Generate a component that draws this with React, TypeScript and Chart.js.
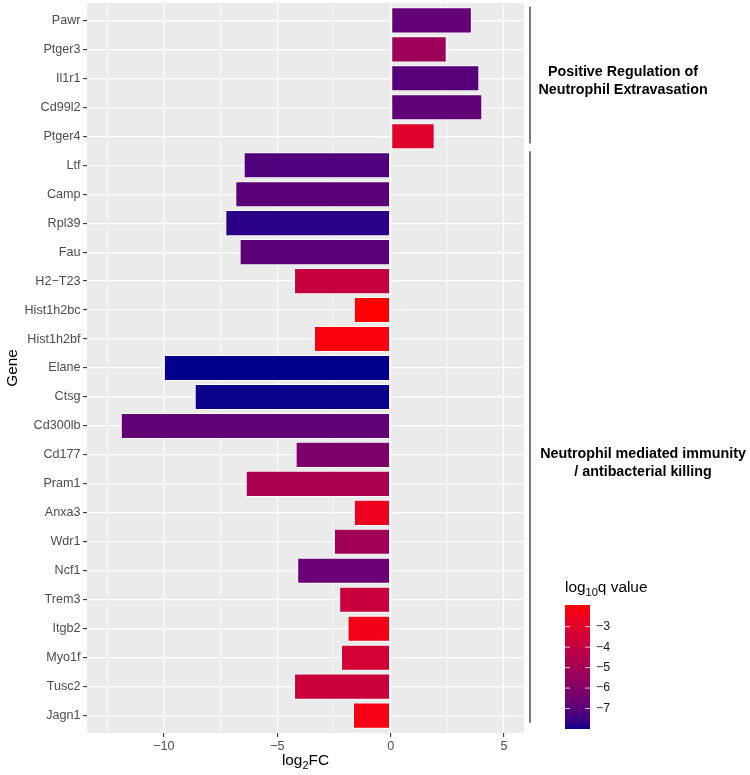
import React, { useEffect, useRef } from 'react';
import { Chart, registerables } from 'chart.js';

Chart.register(...registerables);

// ---------- data ----------
const genes = [
  'Pawr', 'Ptger3', 'Il1r1', 'Cd99l2', 'Ptger4', 'Ltf', 'Camp', 'Rpl39', 'Fau',
  'H2\u2212T23', 'Hist1h2bc', 'Hist1h2bf', 'Elane', 'Ctsg', 'Cd300lb', 'Cd177',
  'Pram1', 'Anxa3', 'Wdr1', 'Ncf1', 'Trem3', 'Itgb2', 'Myo1f', 'Tusc2', 'Jagn1',
];
const log2FC = [
  3.58, 2.47, 3.91, 4.04, 1.94, -6.48, -6.85, -7.29, -6.66,
  -4.26, -1.62, -3.38, -10.0, -8.64, -11.9, -4.19,
  -6.39, -1.62, -2.5, -4.12, -2.27, -1.9, -2.19, -4.26, -1.66,
];
const log10q = [
  -6.79, -5.27, -7.09, -6.85, -3.03, -7.21, -7.03, -7.76, -6.97,
  -3.88, -1.94, -2.12, -8.0, -7.97, -6.85, -6.18,
  -4.85, -2.55, -5.09, -6.67, -3.82, -2.36, -3.46, -3.76, -2.3,
];
const xTicks = [-12.5, -10, -7.5, -5, -2.5, 0, 2.5, 5];
const legendTicks = [-3, -4, -5, -6, -7];
const groupLabels = [
  ['Positive Regulation of', 'Neutrophil Extravasation'],
  ['Neutrophil mediated immunity', '/ antibacterial killing'],
];
const groupFirst = [0, 5];
const groupLast = [4, 24];

// ---------- colour scale (Lab interpolation, like ggplot) ----------
const LOW = [0, 0, 139];
const HIGH = [255, 0, 0];
function srgbToLin(c: number) { c /= 255; return c <= 0.04045 ? c / 12.92 : Math.pow((c + 0.055) / 1.055, 2.4); }
function linToSrgb(c: number) {
  const v = c <= 0.0031308 ? 12.92 * c : 1.055 * Math.pow(Math.max(c, 0), 1 / 2.4) - 0.055;
  return Math.round(Math.max(0, Math.min(1, v)) * 255);
}
function rgbToLab(rgb: number[]) {
  const R = srgbToLin(rgb[0]), G = srgbToLin(rgb[1]), B = srgbToLin(rgb[2]);
  const X = (0.4124 * R + 0.3576 * G + 0.1805 * B) / 0.95047;
  const Y = 0.2126 * R + 0.7152 * G + 0.0722 * B;
  const Z = (0.0193 * R + 0.1192 * G + 0.9505 * B) / 1.08883;
  const f = (t: number) => (t > 0.008856 ? Math.cbrt(t) : 7.787 * t + 16 / 116);
  return [116 * f(Y) - 16, 500 * (f(X) - f(Y)), 200 * (f(Y) - f(Z))];
}
function labToRgb(lab: number[]) {
  const fy = (lab[0] + 16) / 116, fx = fy + lab[1] / 500, fz = fy - lab[2] / 200;
  const inv = (t: number) => (t * t * t > 0.008856 ? t * t * t : (t - 16 / 116) / 7.787);
  const X = inv(fx) * 0.95047, Y = inv(fy), Z = inv(fz) * 1.08883;
  const R = 3.2406 * X - 1.5372 * Y - 0.4986 * Z;
  const G = -0.9689 * X + 1.8758 * Y + 0.0415 * Z;
  const B = 0.0557 * X - 0.204 * Y + 1.057 * Z;
  return [linToSrgb(R), linToSrgb(G), linToSrgb(B)];
}
const LOW_LAB = rgbToLab(LOW);
const HIGH_LAB = rgbToLab(HIGH);
const qMin = Math.min(...log10q);
const qMax = Math.max(...log10q);
function colorFor(v: number) {
  const t = Math.max(0, Math.min(1, (v - qMin) / (qMax - qMin)));
  const lab = LOW_LAB.map((l, i) => l + (HIGH_LAB[i] - l) * t);
  const c = labToRgb(lab);
  return `rgb(${c[0]},${c[1]},${c[2]})`;
}

// ---------- helpers ----------
const FAMILY = '"Liberation Sans", Arial, Helvetica, sans-serif';
const fmt = (v: number) => (v < 0 ? '\u2212' + Math.abs(v) : String(v));

function drawWithSub(
  ctx: CanvasRenderingContext2D, parts: [string, boolean][], x: number, y: number,
  size: number, align: 'left' | 'center', color: string,
) {
  const subSize = size * 0.72;
  let total = 0;
  const widths = parts.map(([s, sub]) => {
    ctx.font = `${sub ? subSize : size}px ${FAMILY}`;
    const w = ctx.measureText(s).width;
    total += w;
    return w;
  });
  let cx = align === 'center' ? x - total / 2 : x;
  ctx.fillStyle = color;
  ctx.textAlign = 'left';
  ctx.textBaseline = 'alphabetic';
  parts.forEach(([s, sub], i) => {
    ctx.font = `${sub ? subSize : size}px ${FAMILY}`;
    ctx.fillText(s, cx, sub ? y + size * 0.25 : y);
    cx += widths[i];
  });
}

const decor = {
  id: 'decor',
  beforeDraw(chart: any) {
    const { ctx, chartArea: a } = chart;
    ctx.save();
    ctx.fillStyle = '#EBEBEB';
    ctx.fillRect(a.left, a.top, a.right - a.left, a.bottom - a.top);
    ctx.restore();
  },
  afterDraw(chart: any) {
    const { ctx, chartArea: a } = chart;
    const yS = chart.scales.y;
    ctx.save();

    // y axis title
    ctx.save();
    ctx.translate(13, (a.top + a.bottom) / 2);
    ctx.rotate(-Math.PI / 2);
    ctx.fillStyle = '#000';
    ctx.font = `15.4px ${FAMILY}`;
    ctx.textAlign = 'center';
    ctx.textBaseline = 'middle';
    ctx.fillText('Gene', 0, 0);
    ctx.restore();

    // x axis title
    drawWithSub(ctx, [['log', false], ['2', true], ['FC', false]], (a.left + a.right) / 2, 765, 15.4, 'center', '#000');

    // group brackets and labels
    const lineX = 530;
    const textRows = [2.09, 15.27];
    const textXs = [623, 643];
    ctx.strokeStyle = '#333333';
    ctx.lineWidth = 1.3;
    groupLabels.forEach((lines, g) => {
      const y0 = yS.getPixelForValue(groupFirst[g] - 0.48);
      const y1 = yS.getPixelForValue(groupLast[g] + 0.25);
      ctx.beginPath();
      ctx.moveTo(lineX, y0);
      ctx.lineTo(lineX, y1);
      ctx.stroke();
      const cy = yS.getPixelForValue(textRows[g]);
      ctx.fillStyle = '#000';
      ctx.font = `bold 14.3px ${FAMILY}`;
      ctx.textAlign = 'center';
      ctx.textBaseline = 'middle';
      const lh = 17.7;
      lines.forEach((ln, i) => {
        ctx.fillText(ln, textXs[g], cy + (i - (lines.length - 1) / 2) * lh);
      });
    });

    // colour bar legend
    drawWithSub(ctx, [['log', false], ['10', true], ['q value', false]], 565, 592, 15.4, 'left', '#000');
    const barX = 565, barY = 605, barW = 25, barH = 124;
    for (let i = 0; i < barH; i++) {
      const v = qMax - ((i + 0.5) / barH) * (qMax - qMin);
      ctx.fillStyle = colorFor(v);
      ctx.fillRect(barX, barY + i, barW, 1);
    }
    ctx.strokeStyle = 'rgba(255,255,255,0.75)';
    ctx.lineWidth = 1;
    ctx.font = `12.3px ${FAMILY}`;
    ctx.textAlign = 'left';
    ctx.textBaseline = 'middle';
    legendTicks.forEach((t) => {
      const y = barY + ((qMax - t) / (qMax - qMin)) * barH;
      ctx.beginPath();
      ctx.moveTo(barX, y); ctx.lineTo(barX + 5, y);
      ctx.moveTo(barX + barW - 5, y); ctx.lineTo(barX + barW, y);
      ctx.stroke();
      ctx.fillStyle = '#1a1a1a';
      ctx.fillText(fmt(t), barX + 31, y);
    });

    ctx.restore();
  },
};

const zeroPad = (s: any) => {
  s.paddingTop = 0; s.paddingBottom = 0; s.paddingLeft = 0; s.paddingRight = 0;
};

export default function App() {
  const ref = useRef<HTMLCanvasElement | null>(null);
  useEffect(() => {
    if (!ref.current) return;
    const chart = new Chart(ref.current, {
      type: 'bar',
      data: {
        datasets: [{
          data: log2FC.map((v, i) => ({ x: v, y: i })) as any,
          backgroundColor: log10q.map(colorFor),
          borderColor: 'rgba(255,255,255,0.85)',
          borderWidth: 1,
          borderSkipped: false,
          barPercentage: 0.9,
          categoryPercentage: 1,
        }],
      },
      options: {
        indexAxis: 'y',
        animation: false,
        responsive: false,
        layout: { padding: { left: 0, top: 3, right: 226, bottom: 0 } },
        plugins: { legend: { display: false }, tooltip: { enabled: false } },
        scales: {
          x: {
            type: 'linear',
            min: -13.39,
            max: 5.88,
            offset: false,
            afterBuildTicks: (s: any) => { s.ticks = xTicks.map((v) => ({ value: v })); },
            afterFit: (s: any) => { s.height = 42; zeroPad(s); },
            ticks: {
              autoSkip: false, maxRotation: 0, minRotation: 0, padding: 2,
              color: '#4D4D4D', font: { family: FAMILY, size: 12.6 },
              callback: (v: any) => (Number(v) % 5 === 0 ? fmt(Number(v)) : ''),
            },
            grid: {
              offset: false,
              color: '#FFFFFF',
              lineWidth: (c: any) => (c.tick && c.tick.value % 5 === 0 ? 1.2 : 0.6),
              tickColor: (c: any) => (c.tick && c.tick.value % 5 === 0 ? '#333333' : 'rgba(0,0,0,0)'),
              tickLength: 4, tickWidth: 1.1,
            },
            border: { display: false },
          },
          y: {
            type: 'linear',
            reverse: true,
            offset: false,
            min: -0.6,
            max: genes.length - 1 + 0.6,
            afterBuildTicks: (s: any) => { s.ticks = genes.map((_, i) => ({ value: i })); },
            afterFit: (s: any) => { s.width = 87; zeroPad(s); },
            ticks: {
              autoSkip: false, padding: 2.5,
              color: '#4D4D4D', font: { family: FAMILY, size: 12.6 },
              callback: (v: any) => genes[Number(v)] ?? '',
            },
            grid: { offset: false, color: '#FFFFFF', lineWidth: 1.2, tickColor: '#333333', tickLength: 4, tickWidth: 1.1 },
            border: { display: false },
          },
        },
      },
      plugins: [decor],
    } as any);
    return () => chart.destroy();
  }, []);
  return (
    <div style={{ position: 'absolute', left: 0, top: 0, width: 750, height: 775, background: '#fff' }}>
      <canvas ref={ref} width={750} height={775} style={{ width: 750, height: 775, display: 'block' }} />
    </div>
  );
}
